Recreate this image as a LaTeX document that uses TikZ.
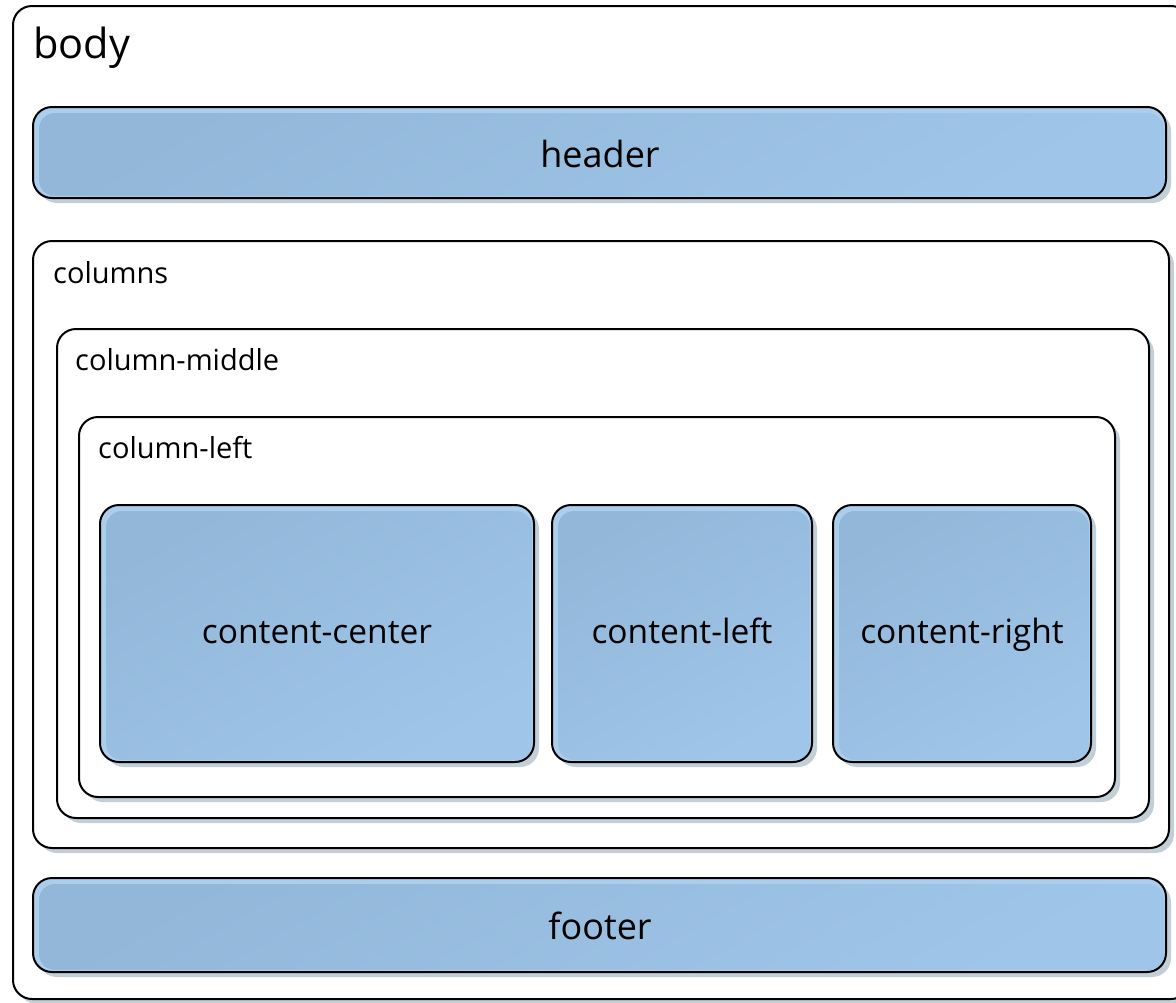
\documentclass[tikz,border=0pt]{standalone}
\usepackage{fontspec}
\setmainfont{Open Sans}
\usetikzlibrary{shadows}
\definecolor{shadowc}{HTML}{C2CFD6}
\definecolor{bluedark}{HTML}{92B7D9}
\definecolor{bluelight}{HTML}{9FC5E8}
\definecolor{bluerim}{HTML}{ABCEED}
\tikzset{
  frame/.style={draw=black, line width=2pt, rounded corners=19pt, inner sep=0pt,
    drop shadow={shadow xshift=5pt, shadow yshift=-5pt, fill=shadowc, opacity=1}},
  whitebox/.style={frame, fill=white},
  bluebox/.style={frame, fill=bluerim,
    path picture={\fill[rounded corners=16pt, top color=bluedark, bottom color=bluelight, shading angle=30]
      ([xshift=6pt,yshift=-6pt]path picture bounding box.north west) rectangle
      ([xshift=-2pt,yshift=2pt]path picture bounding box.south east);}},
  boxlabel/.style={anchor=base west, inner sep=0pt, font=\fontsize{29}{34}\selectfont},
  bluelabel/.style={anchor=base, inner sep=0pt},
}
\newcommand{\mkbox}[6]{% style, name, x1, y1, x2, y2
  \node[#1, minimum width={#5-#3}, minimum height={#6-#4}] (#2) at ({(#3+#5)/2}, {(#4+#6)/2}) {};}
\begin{document}
\begin{tikzpicture}[x=1pt, y=-1pt]
\useasboundingbox (0,0) rectangle (1176,1002);
\clip (0,0) rectangle (1176,1002);
\mkbox{whitebox}{body}{13}{6}{1190}{999}
\mkbox{bluebox}{header}{33}{107}{1166}{198}
\mkbox{whitebox}{columns}{33}{241}{1169}{848}
\mkbox{whitebox}{colmiddle}{57}{329}{1149}{818}
\mkbox{whitebox}{colleft}{79}{417}{1115}{797}
\mkbox{bluebox}{ccenter}{100}{505}{534}{762}
\mkbox{bluebox}{cleft}{552}{505}{812}{762}
\mkbox{bluebox}{cright}{833}{505}{1091}{762}
\mkbox{bluebox}{footer}{33}{878}{1166}{972}

\node[boxlabel, font=\fontsize{41.5}{48}\selectfont] (tbody) at (33,58) {body};
\node[boxlabel] (tcolumns) at (53,283) {columns};
\node[boxlabel] (tcolmiddle) at (75,370) {column-middle};
\node[boxlabel] (tcolleft) at (98,458) {column-left};

\node[bluelabel, font=\fontsize{36}{42}\selectfont] (theader) at (600,167) {header};
\node[bluelabel, font=\fontsize{36}{42}\selectfont] (tfooter) at (600,939) {footer};
\node[bluelabel, font=\fontsize{33.5}{38}\selectfont] (tccenter) at (317,643) {content-center};
\node[bluelabel, font=\fontsize{33.5}{38}\selectfont] (tcleft) at (682,643) {content-left};
\node[bluelabel, font=\fontsize{33.5}{38}\selectfont] (tcright) at (962,643) {content-right};
\end{tikzpicture}
\end{document}
